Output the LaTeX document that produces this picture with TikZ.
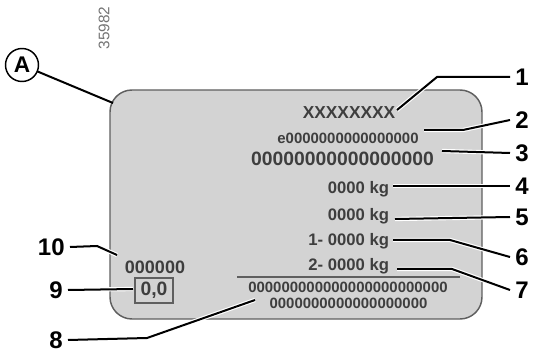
\documentclass[tikz,border=0pt]{standalone}
\usepackage{fontspec}
\setmainfont{Liberation Sans}
\usetikzlibrary{positioning}
\definecolor{platefill}{RGB}{211,211,211}
\definecolor{plateedge}{RGB}{95,95,95}
\definecolor{printgray}{RGB}{62,62,62}
\definecolor{refgray}{RGB}{115,115,115}

\begin{document}
\begin{tikzpicture}[x=0.75pt,y=-0.75pt,
  every node/.style={inner sep=0pt,outer sep=0pt},
  plate/.style={draw=plateedge,line width=1.1pt,fill=platefill,rounded corners=16.5pt},
  platetext/.style={text=printgray,font=\bfseries\fontsize{#1}{#1}\selectfont},
  callout/.style={inner xsep=4pt,font=\bfseries\fontsize{18}{18}\selectfont},
  leader/.style={line width=1.5pt,preaction={draw=white,line width=3.2pt}}]
  \useasboundingbox (0,0) rectangle (533,353);
  % plate
  \draw[plate] (110,90) rectangle (482,319);
  \node[rotate=90,text=refgray,font=\fontsize{11.5}{11.5}\selectfont] (refno) at (104,28) {35982};
  \node[circle,draw,line width=1.1pt,minimum size=24.75pt,font=\bfseries\fontsize{17}{17}\selectfont] (markA) at (22,65) {A};
  % printed fields
  \node[platetext=13,anchor=base] (model) at (349,119) {XXXXXXXX};
  \node[platetext=11.2,anchor=base] (approval) at (348,144) {e0000000000000000};
  \node[platetext=14.5,anchor=base] (vin) at (342.5,166) {00000000000000000};
  \node[platetext=12.5,anchor=base east] (gvw) at (389,194) {0000 kg};
  \node[platetext=12.5,anchor=base east] (gtw) at (389,220) {0000 kg};
  \node[platetext=12.5,anchor=base east] (front) at (389,246) {1- 0000 kg};
  \node[platetext=12.5,anchor=base east] (rear) at (389,271) {2- 0000 kg};
  \draw[plateedge,line width=0.9pt] (237,277) -- (460,277);
  \node[platetext=11.2,anchor=base] (extraA) at (348,292) {000000000000000000000000};
  \node[platetext=11.2,anchor=base] (extraB) at (348.5,308) {0000000000000000000};
  \node[platetext=13.5,anchor=base] (paint) at (155,273) {000000};
  \node[platetext=14.5,draw=plateedge,line width=0.9pt,minimum width=28.5pt,minimum height=18.75pt] (smoke) at (154,290.5) {0,0};
  % callout numbers
  \node[callout,anchor=west] (n1) at (510,77) {1};
  \node[callout,anchor=west] (n2) at (510,120) {2};
  \node[callout,anchor=west] (n3) at (510,153) {3};
  \node[callout,anchor=west] (n4) at (510,186) {4};
  \node[callout,anchor=west] (n5) at (510,217) {5};
  \node[callout,anchor=west] (n6) at (510,257) {6};
  \node[callout,anchor=west] (n7) at (510,290) {7};
  \node[callout,anchor=east] (n8) at (68,340) {8};
  \node[callout,anchor=east] (n9) at (68,290) {9};
  \node[callout,anchor=east] (n10) at (70,247) {10};
  % leader points
  \coordinate (pA) at (113,103);
  \coordinate (p1) at (397,110); \coordinate (b1) at (437,77);
  \coordinate (p2) at (424,130); \coordinate (b2) at (463,130);
  \coordinate (p3) at (442,151);
  \coordinate (p4) at (393,186);
  \coordinate (p5) at (395,219);
  \coordinate (p6) at (393,240); \coordinate (b6) at (450,240);
  \coordinate (p7) at (397,269); \coordinate (b7) at (452,269);
  \coordinate (p8) at (255,300); \coordinate (b8) at (147,338);
  \coordinate (p9) at (133,289);
  \coordinate (p10) at (117,255); \coordinate (b10) at (97,246);
  % leaders
  \draw[line width=1.5pt] (markA) -- (pA);
  \draw[leader] (p1) -- (b1) -- (n1.west);
  \draw[leader] (p2) -- (b2) -- (n2.west);
  \draw[leader] (p3) -- (n3.west);
  \draw[leader] (p4) -- (n4.west);
  \draw[leader] (p5) -- (n5.west);
  \draw[leader] (p6) -- (b6) -- (n6.west);
  \draw[leader] (p7) -- (b7) -- (n7.west);
  \draw[leader] (p8) -- (b8) -- (n8.east);
  \draw[leader] (p9) -- (n9.east);
  \draw[leader] (p10) -- (b10) -- (n10.east);
\end{tikzpicture}
\end{document}
